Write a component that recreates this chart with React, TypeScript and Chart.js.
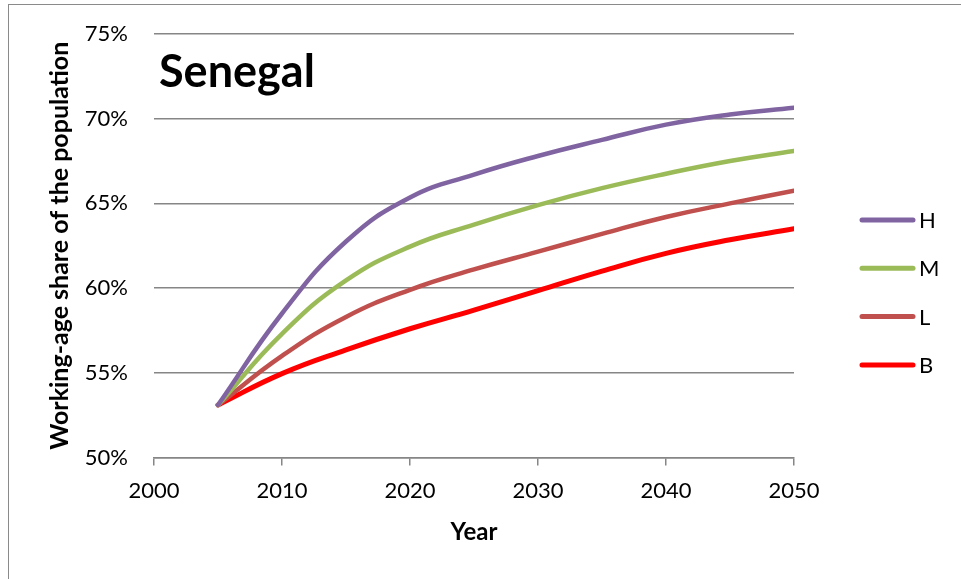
import React, { useEffect, useRef } from "react";
import { Chart, registerables } from "chart.js";

Chart.register(...registerables);

const years = [2005, 2010, 2015, 2020, 2025, 2030, 2035, 2040, 2045, 2050];
const seriesH = [53.1, 58.5, 62.75, 65.35, 66.7, 67.8, 68.75, 69.65, 70.25, 70.65];
const seriesM = [53.1, 57.3, 60.45, 62.45, 63.75, 64.9, 65.9, 66.75, 67.5, 68.1];
const seriesL = [53.1, 56.0, 58.3, 59.9, 61.1, 62.15, 63.2, 64.2, 65.0, 65.75];
const seriesB = [53.1, 54.95, 56.35, 57.6, 58.7, 59.85, 61.0, 62.05, 62.85, 63.5];
const seriesNames = ["H", "M", "L", "B"];
const seriesColors = ["#8064A2", "#9BBB59", "#C0504D", "#FF0000"];
const chartTitle = "Senegal";
const xTitle = "Year";
const yTitle = "Working-age share of the population";

const FONT = "Lato, 'Open Sans', sans-serif";
const GRID = "#868686";

const titlePlugin = {
  id: "insideTitle",
  afterDraw(chart: any) {
    const ctx = chart.ctx;
    ctx.save();
    ctx.font = `bold 45px ${FONT}`;
    ctx.fillStyle = "#000";
    ctx.textBaseline = "alphabetic";
    ctx.textAlign = "left";
    ctx.fillText(chartTitle, chart.chartArea.left + 5, chart.chartArea.top + 53);
    ctx.restore();
  },
};

const legendPlugin = {
  id: "sideLegend",
  afterDraw(chart: any) {
    const ctx = chart.ctx;
    const x0 = chart.chartArea.right + 68;
    const y0 = 220;
    ctx.save();
    chart.data.datasets.forEach((ds: any, i: number) => {
      const y = y0 + i * 48.3;
      ctx.strokeStyle = ds.borderColor;
      ctx.lineWidth = 5;
      ctx.lineCap = "round";
      ctx.beginPath();
      ctx.moveTo(x0, y);
      ctx.lineTo(x0 + 51, y);
      ctx.stroke();
      ctx.font = `22px ${FONT}`;
      ctx.fillStyle = "#000";
      ctx.textBaseline = "middle";
      ctx.textAlign = "left";
      ctx.fillText(ds.label, x0 + 57, y + 1);
    });
    ctx.restore();
  },
};

export default function App() {
  const ref = useRef<HTMLCanvasElement | null>(null);

  useEffect(() => {
    if (!ref.current) return;
    const all = [seriesH, seriesM, seriesL, seriesB];
    const chart = new Chart(ref.current, {
      type: "line",
      data: {
        datasets: all.map((vals, i) => ({
          label: seriesNames[i],
          data: vals.map((v, j) => ({ x: years[j], y: v })),
          borderColor: seriesColors[i],
          backgroundColor: seriesColors[i],
          borderWidth: i === 3 ? 5 : 4.5,
          pointRadius: 0,
          pointHoverRadius: 0,
          tension: 0.45,
          borderCapStyle: "round" as const,
          fill: false,
        })),
      },
      options: {
        animation: false,
        responsive: false,
        devicePixelRatio: 1,
        layout: { padding: { left: 0, top: 34, right: 167, bottom: 0 } },
        plugins: {
          legend: { display: false },
          tooltip: { enabled: false },
          title: { display: false },
        },
        scales: {
          x: {
            type: "linear",
            min: 2000,
            max: 2050,
            afterFit: (s: any) => {
              s.height = 121.5;
            },
            ticks: {
              stepSize: 10,
              color: "#000",
              font: { family: FONT, size: 22 },
              padding: 12,
              callback: (v: any) => String(v),
            },
            grid: {
              drawOnChartArea: false,
              drawTicks: true,
              tickLength: 8,
              color: GRID,
              lineWidth: 1.5,
            },
            border: { display: true, color: GRID, width: 1.5 },
            title: {
              display: true,
              text: xTitle,
              color: "#000",
              font: { family: FONT, size: 24, weight: "bold" },
              padding: { top: 0, bottom: 32 },
            },
          },
          y: {
            min: 50,
            max: 75,
            afterFit: (s: any) => {
              s.width = 154;
              s.paddingTop = 14;
              s.paddingBottom = 14;
            },
            ticks: {
              stepSize: 5,
              color: "#000",
              font: { family: FONT, size: 22 },
              padding: 26,
              callback: (v: any) => v + "%",
            },
            grid: {
              drawTicks: false,
              color: GRID,
              lineWidth: 1.5,
            },
            border: { display: false },
            title: {
              display: true,
              text: yTitle,
              color: "#000",
              font: { family: FONT, size: 25, weight: "bold" },
              padding: { top: 45, bottom: 0 },
            },
          },
        },
      },
      plugins: [titlePlugin, legendPlugin],
    });
    return () => chart.destroy();
  }, []);

  return (
    <div>
      <div
        style={{
          position: "absolute",
          left: 8,
          top: 4,
          width: 953,
          height: 575,
          borderTop: "1.5px solid #8a8a8a",
          borderLeft: "1.5px solid #8a8a8a",
          boxSizing: "border-box",
        }}
      />
      <canvas
        ref={ref}
        width={961}
        height={579}
        style={{ position: "absolute", left: 0, top: 0, width: 961, height: 579 }}
      />
    </div>
  );
}
